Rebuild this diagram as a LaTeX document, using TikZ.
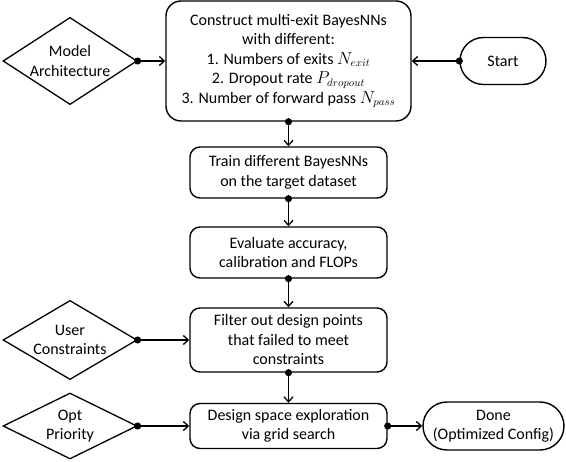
\documentclass[tikz,border=0pt]{standalone}
\usepackage{fontspec}
\setmainfont{Carlito}
\usetikzlibrary{arrows.meta,positioning,shapes.geometric,shapes.misc}

\begin{document}
\begin{tikzpicture}[x=1pt,y=-1pt,
font=\fontsize{16}{19.5}\selectfont,
box/.style={draw,line width=1.4pt,rounded corners=10pt,align=center,inner sep=0pt},
term/.style={draw,rounded rectangle,line width=1.4pt,align=center,inner sep=0pt},
cond/.style={draw,diamond,line width=1.3pt,align=center,inner sep=-6pt,
minimum width=134pt,minimum height=67pt},
flow/.style={line width=1.3pt,{Circle[length=7pt]}-{Straight Barb[length=5pt,width=9pt]},
shorten <=-3.5pt}]
\useasboundingbox (0,0) rectangle (566,462);

\node[box,rounded corners=15pt,minimum width=245pt,minimum height=120pt]
(B1) at (288.5,61) {Construct multi-exit BayesNNs\\with different:\\
1. Numbers of exits $N_{exit}$\\2. Dropout rate $P_{dropout}$\\
3. Number of forward pass $N_{pass}$};
\node[box,minimum width=197pt,minimum height=51pt]
(B2) at (288.5,172.5) {Train different BayesNNs\\on the target dataset};
\node[box,minimum width=197pt,minimum height=51pt]
(B3) at (288.5,252.5) {Evaluate accuracy,\\calibration and FLOPs};
\node[box,minimum width=197pt,minimum height=64pt]
(B4) at (288.5,340) {Filter out design points\\that failed to meet\\constraints};
\node[box,minimum width=197pt,minimum height=45pt]
(B5) at (288.5,426) {Design space exploration\\via grid search};

\node[term,minimum width=86pt,minimum height=47pt] (T1) at (503,61) {Start};
\node[term,minimum width=141pt,minimum height=48pt] (T2) at (493.5,426) {Done\\(Optimized Config)};

\node[cond] (D1) at (70,61) {Model\\Architecture};
\node[cond] (D2) at (70,340) {User\\Constraints};
\node[cond,minimum height=66pt] (D3) at (70,426) {Opt\\Priority};

\draw[flow] (D1.east)--(B1.west);
\draw[flow] (T1.west)--(B1.east);
\draw[flow] (B1.south)--(B2.north);
\draw[flow] (B2.south)--(B3.north);
\draw[flow] (B3.south)--(B4.north);
\draw[flow] (D2.east)--(B4.west);
\draw[flow] (B4.south)--(B5.north);
\draw[flow] (D3.east)--(B5.west);
\draw[flow] (B5.east)--(T2.west);
\end{tikzpicture}
\end{document}
